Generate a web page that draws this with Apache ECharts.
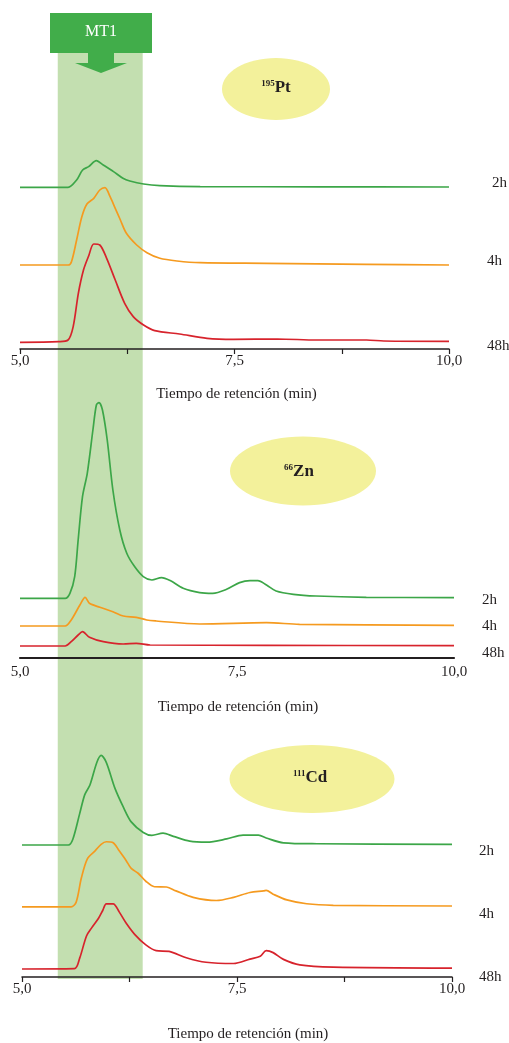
<!DOCTYPE html>
<html>
<head>
<meta charset="utf-8">
<script src="https://cdn.jsdelivr.net/npm/echarts@6/dist/echarts.min.js"></script>
<style>html,body{margin:0;padding:0;background:#fff}#c{width:509px;height:1043px}</style>
</head>
<body>
<div id="c"></div>
<script>
// ---------- DATA: retention time (min) vs relative intensity (a.u.) ----------
const xTicks = [5, 7.5, 10];
const traceNames = ['2h', '4h', '48h'];
const bandRange = [5.44, 6.43];          // MT1 elution window (min)
const elementLabels = ['195|Pt', '66|Zn', '111|Cd'];

// 195Pt
const pt2h = [[5,0],[5.56,0],[5.66,7.3],[5.73,17.3],[5.80,20.7],[5.89,26.7],[5.97,22.3],[6.09,15.7],[6.20,9],[6.28,6.3],[6.44,3.3],[6.63,1.7],[7.10,0.7],[8.5,0.5],[10,0.3]];
const pt4h = [[5,0],[5.56,0],[5.60,3.3],[5.66,25],[5.72,48],[5.78,61],[5.86,66.7],[5.93,75],[5.99,77.3],[6.05,68.3],[6.11,56.7],[6.17,45],[6.24,31.7],[6.36,20],[6.48,12.3],[6.63,6.7],[6.83,4],[7.10,2.3],[7.87,1.7],[9.04,0.7],[10,0]];
const pt48h = [[5,0],[5.45,0.7],[5.56,2.3],[5.62,15.7],[5.68,49],[5.74,72.3],[5.80,86.3],[5.86,98.3],[5.93,97.3],[6.01,84],[6.11,62.3],[6.22,39],[6.32,25.7],[6.44,17.3],[6.57,11.7],[6.86,8.3],[7.18,4],[7.49,3],[8.0,3.3],[8.46,2.3],[9.04,2.3],[9.24,1.3],[10,1]];

// 66Zn
const zn2h = [[5,0],[5.52,0],[5.575,5],[5.63,21.7],[5.67,58.3],[5.72,101.7],[5.775,125],[5.84,168.3],[5.88,193.3],[5.91,195.7],[5.95,188.3],[6.005,158.3],[6.07,108.3],[6.15,68.3],[6.23,45],[6.32,31.7],[6.42,21.7],[6.52,18.3],[6.63,20.7],[6.73,17.7],[6.88,10],[7.07,5.7],[7.22,5],[7.38,9],[7.53,15.7],[7.65,17.7],[7.74,17.7],[7.84,13.3],[7.95,7.3],[8.15,4],[8.41,2.3],[8.99,1],[10,0.7]];
const zn4h = [[5,0],[5.52,0],[5.59,6],[5.69,21],[5.75,28.7],[5.80,22.7],[5.92,18.7],[6.07,14.3],[6.19,10],[6.34,8.7],[6.46,6],[6.57,5],[7.07,2],[7.84,3.3],[8.22,1.7],[10,0.7]];
const zn48h = [[5,0],[5.52,0],[5.59,4.3],[5.67,11],[5.72,14.3],[5.80,8.7],[5.96,4.3],[6.19,2],[6.34,2.7],[6.50,1],[7.84,0.7],[10,0.3]];

// 111Cd
const cd2h = [[5,0],[5.54,0],[5.59,5.7],[5.67,32.3],[5.73,52.3],[5.79,62.3],[5.87,85.7],[5.92,93],[5.98,85.7],[6.08,59],[6.18,39],[6.27,24],[6.41,13],[6.51,10],[6.64,12.3],[6.76,9],[6.95,4],[7.15,3],[7.38,6.3],[7.57,10.3],[7.75,10.3],[7.84,7.3],[8.04,2.3],[8.43,1.3],[10,0.7]];
const cd4h = [[5,0],[5.57,0],[5.63,5],[5.69,30],[5.76,50],[5.85,58.3],[5.92,65],[5.98,67.7],[6.06,66.7],[6.13,58.3],[6.21,48.3],[6.27,40],[6.35,35],[6.44,26.7],[6.54,21],[6.68,20.7],[6.79,16.7],[6.99,10],[7.26,6.7],[7.46,10],[7.65,15],[7.81,16.7],[7.84,17.3],[7.92,13.3],[8.08,7.3],[8.31,3.3],[8.62,1.7],[10,1]];
const cd48h = [[5,0],[5.61,0.3],[5.67,11],[5.75,34.3],[5.81,42.7],[5.89,52.7],[5.94,61],[5.98,67.7],[6.06,67.7],[6.13,59.3],[6.21,47.7],[6.31,36],[6.44,25],[6.56,19],[6.71,18.3],[6.91,11.7],[7.14,7],[7.46,5.7],[7.65,10.3],[7.77,13.3],[7.84,19],[7.92,17],[8.04,10],[8.23,4.3],[8.62,2],[10,1]];

const panelData = [[pt2h, pt4h, pt48h], [zn2h, zn4h, zn48h], [cd2h, cd4h, cd48h]];

// ---------- LAYOUT / STYLE ----------
const colors = ['#3ca648', '#f59a1f', '#d7232c'];
const serif = '"Liberation Serif","Times New Roman",serif';
const grids = [
  {left: 20, right: 60, top: 140, height: 209},
  {left: 20, right: 55, top: 390, height: 268},
  {left: 22, right: 57, top: 740, height: 246}
];
const offsets = [[161.7, 84, 6.7], [59.7, 32, 12], [137, 72.7, 8.3]];
const nameGaps = [38, 42, 50];
const namePads = [[0,0,0,4], [0,0,0,2], [0,0,0,22]];
const showTicks = [true, false, true];
const axisWidth = [1.5, 2.2, 1.5];
const hourLabelPos = [
  [[492,183],[487,261],[487,346]],
  [[482,600],[482,626],[482,653]],
  [[479,851],[479,914],[479,977]]
];
const ellipses = [
  {cx: 276, cy: 89, rx: 54, ry: 31, tx: 276, ty: 88},
  {cx: 303, cy: 471, rx: 73, ry: 34.5, tx: 299, ty: 472},
  {cx: 312, cy: 779, rx: 82.5, ry: 34, tx: 310, ty: 778}
];

const chart = echarts.init(document.getElementById('c'), null, {renderer: 'canvas'});

const gridOpt = grids.map(g => Object.assign({}, g));
gridOpt.push({left: 20, right: 60, top: 50, height: 929}); // band grid

const fmt = v => (xTicks.indexOf(v) >= 0 ? v.toFixed(1).replace('.', ',') : '');

const xAxes = grids.map((g, i) => ({
  type: 'value', gridIndex: i, min: 5, max: 10, interval: 1.25, z: 10,
  name: 'Tiempo de retención (min)', nameLocation: 'middle', nameGap: nameGaps[i],
  nameTextStyle: {fontFamily: serif, fontSize: 15, color: '#231f20', padding: namePads[i]},
  axisLine: {show: true, lineStyle: {color: '#231f20', width: axisWidth[i]}},
  axisTick: {show: showTicks[i], length: 5, lineStyle: {color: '#231f20', width: 1.2}},
  axisLabel: {formatter: fmt, fontFamily: serif, fontSize: 15, color: '#231f20', margin: i === 1 ? 7 : 5, showMinLabel: true, showMaxLabel: true},
  splitLine: {show: false}
}));
xAxes.push({type: 'value', gridIndex: 3, min: 5, max: 10, show: false});

const yAxes = grids.map((g, i) => ({type: 'value', gridIndex: i, min: 0, max: g.height, show: false}));
yAxes.push({type: 'value', gridIndex: 3, min: 0, max: 1, show: false});

const series = [{
  type: 'line', xAxisIndex: 3, yAxisIndex: 3, data: [], z: -5, silent: true,
  markArea: {silent: true, z: -5, itemStyle: {color: '#c3dfb0', opacity: 1},
    data: [[{xAxis: bandRange[0]}, {xAxis: bandRange[1]}]]}
}];
panelData.forEach((traces, p) => {
  traces.forEach((tr, k) => {
    series.push({
      type: 'line', name: traceNames[k], xAxisIndex: p, yAxisIndex: p,
      data: tr.map(d => [d[0], d[1] + offsets[p][k]]),
      showSymbol: false, smooth: 0.3, z: 3,
      lineStyle: {color: colors[k], width: 1.7}, silent: true
    });
  });
});

const graphic = [];
// MT1 box + arrow
graphic.push({type: 'rect', shape: {x: 50, y: 13, width: 102, height: 40}, style: {fill: '#41ad4a'}, z: 10});
graphic.push({type: 'polygon', shape: {points: [[88,52],[114,52],[114,63],[127,63],[101,73],[75,63],[88,63]]}, style: {fill: '#41ad4a'}, z: 10});
graphic.push({type: 'text', x: 101, y: 32, style: {text: 'MT1', fill: '#ffffff', font: '16px ' + serif, textAlign: 'center', textVerticalAlign: 'middle'}, z: 11});
// element ellipses
ellipses.forEach((e, i) => {
  const parts = elementLabels[i].split('|');
  graphic.push({type: 'ellipse', shape: {cx: e.cx, cy: e.cy, rx: e.rx, ry: e.ry}, style: {fill: '#f3f19b'}, z: 10});
  graphic.push({type: 'text', x: e.tx, y: e.ty, z: 11, style: {
    text: '{s|' + parts[0] + '}{b|' + parts[1] + '}',
    align: 'center', verticalAlign: 'middle',
    rich: {
      s: {fontFamily: serif, fontWeight: 'bold', fontSize: 9, fill: '#231f20', verticalAlign: 'top', lineHeight: 18},
      b: {fontFamily: serif, fontWeight: 'bold', fontSize: 17, fill: '#231f20', lineHeight: 18}
    }
  }});
});
// hour labels
hourLabelPos.forEach(panel => panel.forEach((pos, k) => {
  graphic.push({type: 'text', x: pos[0], y: pos[1], z: 11, style: {
    text: traceNames[k], fill: '#231f20', font: '15px ' + serif, textAlign: 'left', textVerticalAlign: 'middle'}});
}));

chart.setOption({
  animation: false,
  backgroundColor: '#ffffff',
  grid: gridOpt,
  xAxis: xAxes,
  yAxis: yAxes,
  series: series,
  graphic: graphic
});
</script>
</body>
</html>
